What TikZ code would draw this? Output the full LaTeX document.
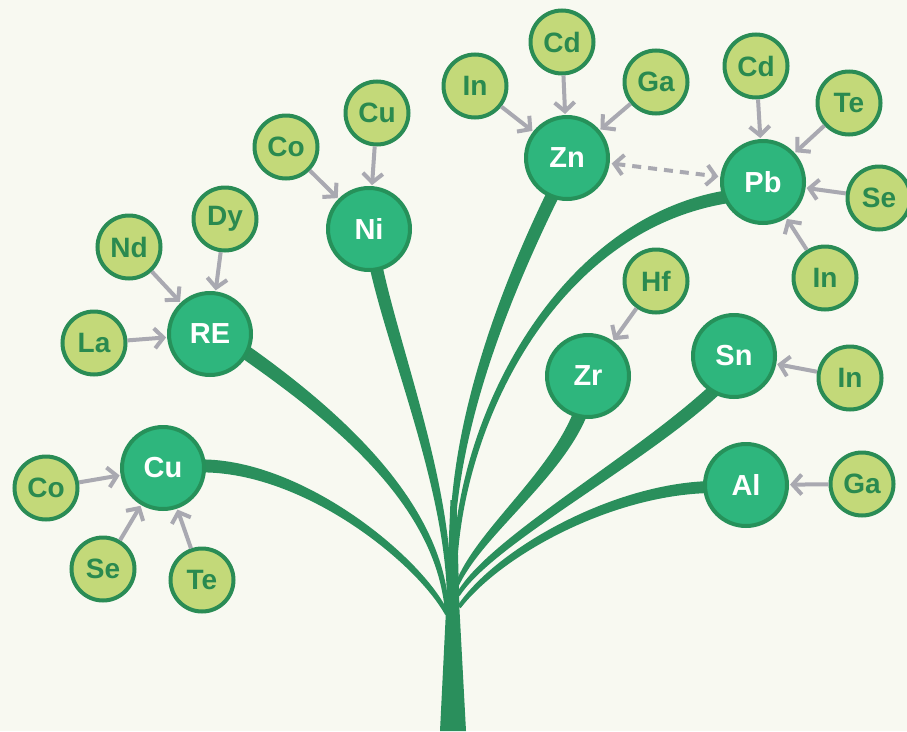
\documentclass[tikz,border=0pt]{standalone}
\usepackage{fontspec}
\setmainfont{Liberation Sans}
\usetikzlibrary{calc,arrows.meta}
\definecolor{bgc}{HTML}{F8F9F1}
\definecolor{bigfill}{HTML}{2EB67D}
\definecolor{bigdraw}{HTML}{26915A}
\definecolor{smallfill}{HTML}{C3D979}
\definecolor{smalldraw}{HTML}{2A8C55}
\definecolor{smalltext}{HTML}{2A8A4F}
\definecolor{branchc}{HTML}{2A8F5C}
\definecolor{arrowc}{HTML}{A9A9B1}
\tikzset{
  bignode/.style={circle,fill=bigfill,draw=bigdraw,line width=4pt,minimum size=82pt,inner sep=0pt,text=white,font=\fontsize{29}{29}\bfseries\selectfont},
  smallnode/.style={circle,fill=smallfill,draw=smalldraw,line width=4pt,minimum size=63pt,inner sep=0pt,text=smalltext,font=\fontsize{28}{28}\bfseries\selectfont},
  feed/.style={draw=arrowc,line width=4pt,-{Straight Barb[length=9pt,width=20pt,line width=4pt]},shorten >=1pt},
  duallink/.style={draw=arrowc,line width=4pt,dash pattern=on 9pt off 7pt,{Straight Barb[length=9pt,width=20pt,line width=4pt]}-{Straight Barb[length=9pt,width=20pt,line width=4pt]},shorten >=2pt,shorten <=2pt},
}
\newcommand\branchfill[6]{%
  \coordinate (bp0) at #1; \coordinate (bc1) at #2; \coordinate (bc2) at #3; \coordinate (bp3) at #4;
  \coordinate (bp0l) at ($(bp0)!#5!90:(bc1)$);
  \coordinate (bp0r) at ($(bp0)!#5!-90:(bc1)$);
  \coordinate (bp3l) at ($(bp3)!#6!-90:(bc2)$);
  \coordinate (bp3r) at ($(bp3)!#6!90:(bc2)$);
  \coordinate (bc1l) at ($(bc1)+2.2*(bp0l)-2.2*(bp0)$);
  \coordinate (bc1r) at ($(bc1)+2.2*(bp0r)-2.2*(bp0)$);
  \coordinate (bc2l) at ($(bc2)+(bp3l)-(bp3)$);
  \coordinate (bc2r) at ($(bc2)+(bp3r)-(bp3)$);
  \fill[branchc] (bp0l) .. controls (bc1l) and (bc2l) .. (bp3l) -- (bp3r) .. controls (bc2r) and (bc1r) .. (bp0r) -- cycle;
}
\begin{document}
\begin{tikzpicture}[x=1pt,y=-1pt]
\fill[bgc] (0,0) rectangle (907,731);
\useasboundingbox (0,0) rectangle (907,731);
% trunk
\fill[branchc] (440,731) -- (466,731) -- (459.5,610) -- (456.5,500) -- (450.5,500) -- (446,610) -- cycle;
% branches
\branchfill{(447,614)}{(420,560)}{(300,462)}{(195,466)}{2pt}{6.5pt}
\branchfill{(447,612)}{(440,500)}{(330,410)}{(228,340)}{2pt}{7pt}
\branchfill{(449,600)}{(450,480)}{(385,330)}{(372,245)}{2pt}{6.5pt}
\branchfill{(452,560)}{(450,430)}{(505,290)}{(560,180)}{2pt}{6.5pt}
\branchfill{(455,570)}{(458,420)}{(560,215)}{(740,195)}{2pt}{6.5pt}
\branchfill{(457,585)}{(480,530)}{(565,470)}{(585,400)}{2pt}{7pt}
\branchfill{(458,595)}{(490,540)}{(650,455)}{(725,380)}{2pt}{6.5pt}
\branchfill{(459,607)}{(500,550)}{(620,485)}{(720,487)}{2pt}{6pt}
% big nodes
\node[bignode] (re) at (210,334) {RE};
\node[bignode] (cu) at (163,468) {Cu};
\node[bignode] (ni) at (369,229) {Ni};
\node[bignode] (zn) at (567,158) {Zn};
\node[bignode] (pb) at (763,182) {Pb};
\node[bignode] (zr) at (588,376) {Zr};
\node[bignode] (sn) at (734,356) {Sn};
\node[bignode] (al) at (746,485) {Al};
% small nodes
\node[smallnode] (la) at (94,343) {La};
\node[smallnode] (nd) at (129,247) {Nd};
\node[smallnode] (dy) at (225,219) {Dy};
\node[smallnode] (coni) at (286,147) {Co};
\node[smallnode] (cuni) at (377,113) {Cu};
\node[smallnode] (inzn) at (475,86) {In};
\node[smallnode] (cdzn) at (562,42) {Cd};
\node[smallnode] (gazn) at (656,82) {Ga};
\node[smallnode] (cdpb) at (756,66) {Cd};
\node[smallnode] (tepb) at (849,103) {Te};
\node[smallnode] (sepb) at (879,198) {Se};
\node[smallnode] (inpb) at (825,278) {In};
\node[smallnode] (hf) at (656,281) {Hf};
\node[smallnode] (insn) at (850,378) {In};
\node[smallnode] (gaal) at (862,484) {Ga};
\node[smallnode] (cocu) at (46,488) {Co};
\node[smallnode] (secu) at (103,569) {Se};
\node[smallnode] (tecu) at (202,580) {Te};
% arrows
\draw[feed] (la) -- (re);
\draw[feed] (nd) -- (re);
\draw[feed] (dy) -- (re);
\draw[feed] (coni) -- (ni);
\draw[feed] (cuni) -- (ni);
\draw[feed] (inzn) -- (zn);
\draw[feed] (cdzn) -- (zn);
\draw[feed] (gazn) -- (zn);
\draw[feed] (cdpb) -- (pb);
\draw[feed] (tepb) -- (pb);
\draw[feed] (sepb) -- (pb);
\draw[feed] (inpb) -- (pb);
\draw[feed] (hf) -- (zr);
\draw[feed] (insn) -- (sn);
\draw[feed] (gaal) -- (al);
\draw[feed] (cocu) -- (cu);
\draw[feed] (secu) -- (cu);
\draw[feed] (tecu) -- (cu);
\draw[duallink] (zn) -- (pb);
\end{tikzpicture}
\end{document}
